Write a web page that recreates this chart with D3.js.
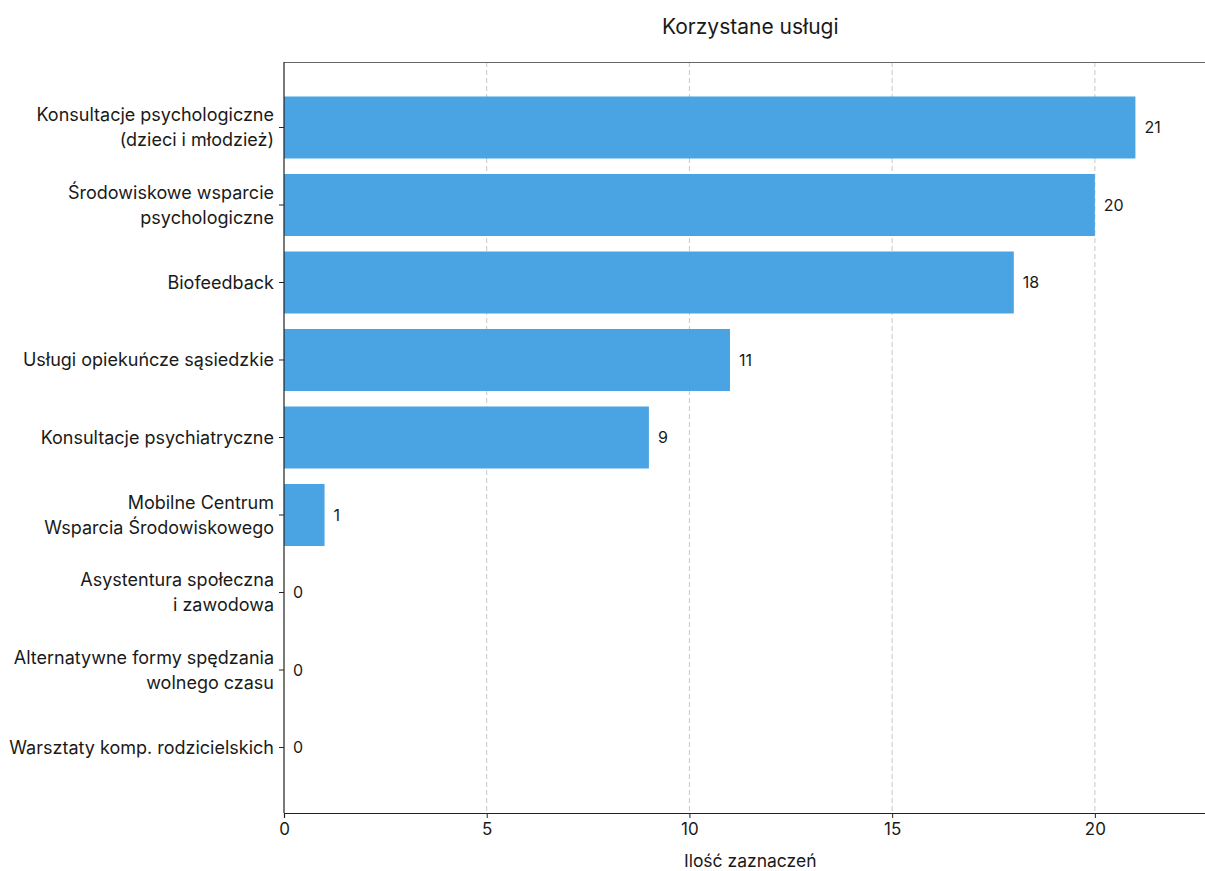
<!DOCTYPE html>
<html>
<head>
<meta charset="utf-8">
<script src="https://cdn.jsdelivr.net/npm/d3@7"></script>
<style>
  html, body { margin: 0; padding: 0; background: #fff; }
  svg { display: block; }
  text { font-family: Inter, Roboto, "Noto Sans", sans-serif; fill: #1a1a1a; }
</style>
</head>
<body>
<svg id="chart" width="1205" height="871"></svg>
<script>
const categories = [
  "Konsultacje psychologiczne\n(dzieci i młodzież)",
  "Środowiskowe wsparcie\npsychologiczne",
  "Biofeedback",
  "Usługi opiekuńcze sąsiedzkie",
  "Konsultacje psychiatryczne",
  "Mobilne Centrum\nWsparcia Środowiskowego",
  "Asystentura społeczna\ni zawodowa",
  "Alternatywne formy spędzania\nwolnego czasu",
  "Warsztaty komp. rodzicielskich"
];
const values = [21, 20, 18, 11, 9, 1, 0, 0, 0];
const xTicks = [0, 5, 10, 15, 20];
const title = "Korzystane usługi";
const xLabel = "Ilość zaznaczeń";

(function() {
const FONT = "Inter, Roboto, 'Noto Sans', sans-serif";
const svg = d3.select("#chart");
const mLeft = 284, mRight = 1216.5, mTop = 62, mBottom = 813;

const x = d3.scaleLinear().domain([0, 23]).range([mLeft, mRight]);
const y = d3.scaleLinear().domain([-0.845, categories.length - 1 + 0.845]).range([mTop, mBottom]);
const barH = (y(1) - y(0)) * 0.8;

// grid
svg.append("g").selectAll("line").data(xTicks.filter(d => d > 0)).join("line")
  .attr("x1", d => x(d)).attr("x2", d => x(d))
  .attr("y1", mTop).attr("y2", mBottom)
  .attr("stroke", "#c8c8c8").attr("stroke-width", 1).attr("stroke-dasharray", "5,3");

// bars
svg.append("g").selectAll("rect").data(values).join("rect")
  .attr("x", x(0))
  .attr("y", (d, i) => y(i) - barH / 2)
  .attr("width", d => x(d) - x(0))
  .attr("height", barH)
  .attr("fill", "#4aa3e2");

// value labels
svg.append("g").selectAll("text").data(values).join("text")
  .attr("x", d => x(d) + 9)
  .attr("y", (d, i) => y(i))
  .attr("dy", "0.35em")
  .attr("font-size", 16)
  .text(d => d);

// top spine
svg.append("line").attr("x1", mLeft).attr("x2", mRight).attr("y1", mTop + 0.5).attr("y2", mTop + 0.5)
  .attr("stroke", "#666").attr("stroke-width", 1.2);

// x axis
const xAxis = svg.append("g").attr("transform", `translate(0,${mBottom})`)
  .call(d3.axisBottom(x).tickValues(xTicks).tickSize(5).tickPadding(5));
xAxis.select(".domain").attr("stroke", "#222").attr("stroke-width", 1.2);
xAxis.selectAll(".tick line").attr("stroke", "#222");
xAxis.selectAll("text").attr("font-size", 17).attr("fill", "#1a1a1a")
  .style("font-family", FONT);

// y axis
svg.append("line").attr("x1", mLeft).attr("x2", mLeft).attr("y1", mTop).attr("y2", mBottom)
  .attr("stroke", "#222").attr("stroke-width", 1.2);
const yt = svg.append("g").selectAll("g").data(categories).join("g")
  .attr("transform", (d, i) => `translate(0,${y(i)})`);
yt.append("line").attr("x1", mLeft - 5).attr("x2", mLeft).attr("stroke", "#222");
yt.each(function(d) {
  const lines = d.split("\n");
  const t = d3.select(this).append("text")
    .attr("text-anchor", "end").attr("font-size", 18);
  lines.forEach((ln, k) => {
    t.append("tspan").attr("x", mLeft - 10)
      .attr("y", (k - (lines.length - 1) / 2) * 25)
      .attr("dy", "0.35em").text(ln);
  });
});

// title & labels
svg.append("text").attr("x", (mLeft + mRight) / 2).attr("y", 27).attr("dy", "0.35em")
  .attr("text-anchor", "middle").attr("font-size", 21).text(title);
svg.append("text").attr("x", (mLeft + mRight) / 2).attr("y", 861).attr("dy", "0.35em")
  .attr("text-anchor", "middle").attr("font-size", 17.5).text(xLabel);
})();
</script>
</body>
</html>
